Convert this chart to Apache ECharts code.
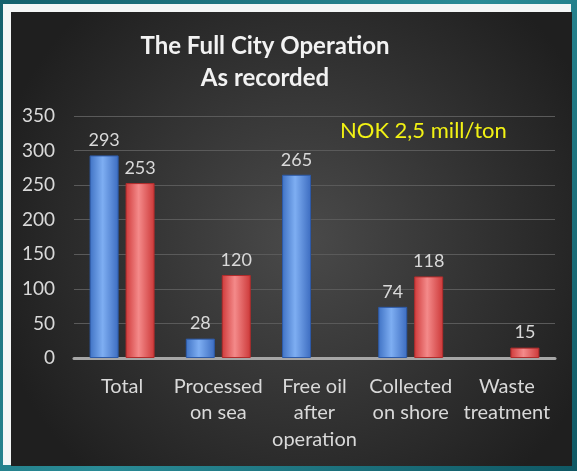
<!DOCTYPE html>
<html>
<head>
<meta charset="utf-8">
<script src="https://cdn.jsdelivr.net/npm/echarts@6/dist/echarts.min.js"></script>
<style>
html,body{margin:0;padding:0;background:#1d6f7a;}
#chart{width:577px;height:471px;}
</style>
</head>
<body>
<div id="chart"></div>
<script>
// 数据
var categories = ['Total', 'Processed\non sea', 'Free oil\nafter\noperation', 'Collected\non shore', 'Waste\ntreatment'];
var blueValues = [293, 28, 265, 74, null];
var redValues = [253, 120, null, 118, 15];
var yTicks = [0, 50, 100, 150, 200, 250, 300, 350];

var myChart = echarts.init(document.getElementById('chart'));

var blueColor = new echarts.graphic.LinearGradient(0, 0, 1, 0, [
    {offset: 0, color: '#3f72c4'},
    {offset: 0.45, color: '#7eaef2'},
    {offset: 1, color: '#3c6cc0'}
]);
var redColor = new echarts.graphic.LinearGradient(0, 0, 1, 0, [
    {offset: 0, color: '#cf3a3a'},
    {offset: 0.45, color: '#f48a8a'},
    {offset: 1, color: '#cc3838'}
]);

var labelStyle = {
    show: true,
    position: 'top',
    distance: 6,
    color: '#d9d9d9',
    fontSize: 18,
    fontFamily: 'Lato'
};

var option = {
    backgroundColor: new echarts.graphic.LinearGradient(0, 0, 1, 1, [
        {offset: 0, color: '#14606c'},
        {offset: 0.5, color: '#2a8b96'},
        {offset: 1, color: '#0f5864'}
    ]),
    graphic: [
        // 白色边框
        {type: 'rect', z: -20, silent: true, shape: {x: 3, y: 4, width: 568, height: 461}, style: {fill: '#f4f6f6'}},
        // 深色面板
        {type: 'rect', z: -19, silent: true, shape: {x: 11, y: 12, width: 561, height: 454},
            style: {fill: new echarts.graphic.RadialGradient(0.52, 0.5, 0.7, [
                {offset: 0, color: '#4a4a4a'},
                {offset: 1, color: '#1f1f1f'}
            ])}},
        // 标题
        {type: 'text', x: 265, y: 30, z: 10,
            style: {text: 'The Full City Operation\nAs recorded', fill: '#f2f2f2', fontSize: 24,
                fontWeight: 'bold', fontFamily: 'Lato', lineHeight: 32, align: 'center'}},
        {type: 'text', left: 340, top: 120, z: 10,
            style: {text: 'NOK 2,5 mill/ton', fill: '#f2f214', fontSize: 22, fontFamily: 'Lato'}}
    ],
    grid: {left: 74, right: 22, top: 116, bottom: 113},
    xAxis: {
        type: 'category',
        data: categories,
        axisLine: {lineStyle: {color: '#a6a6a6', width: 3}},
        axisTick: {show: false},
        axisLabel: {
            color: '#d9d9d9',
            fontSize: 20,
            fontFamily: 'Lato',
            lineHeight: 26.5,
            margin: 15,
            interval: 0
        }
    },
    yAxis: {
        type: 'value',
        min: yTicks[0],
        max: yTicks[yTicks.length - 1],
        interval: 50,
        axisLine: {show: false},
        axisTick: {show: false},
        axisLabel: {color: '#d9d9d9', fontSize: 19, fontFamily: 'Lato', margin: 19},
        splitLine: {lineStyle: {color: '#5a5a5a', width: 1}}
    },
    series: [
        {
            name: 'blue',
            type: 'bar',
            data: blueValues,
            barWidth: 29,
            barGap: '24%',
            itemStyle: {color: blueColor, borderColor: '#2d5aa8', borderWidth: 1},
            label: labelStyle
        },
        {
            name: 'red',
            type: 'bar',
            data: redValues,
            barWidth: 29,
            itemStyle: {color: redColor, borderColor: '#b02c2c', borderWidth: 1},
            label: labelStyle
        }
    ]
};

myChart.setOption(option);
</script>
</body>
</html>
